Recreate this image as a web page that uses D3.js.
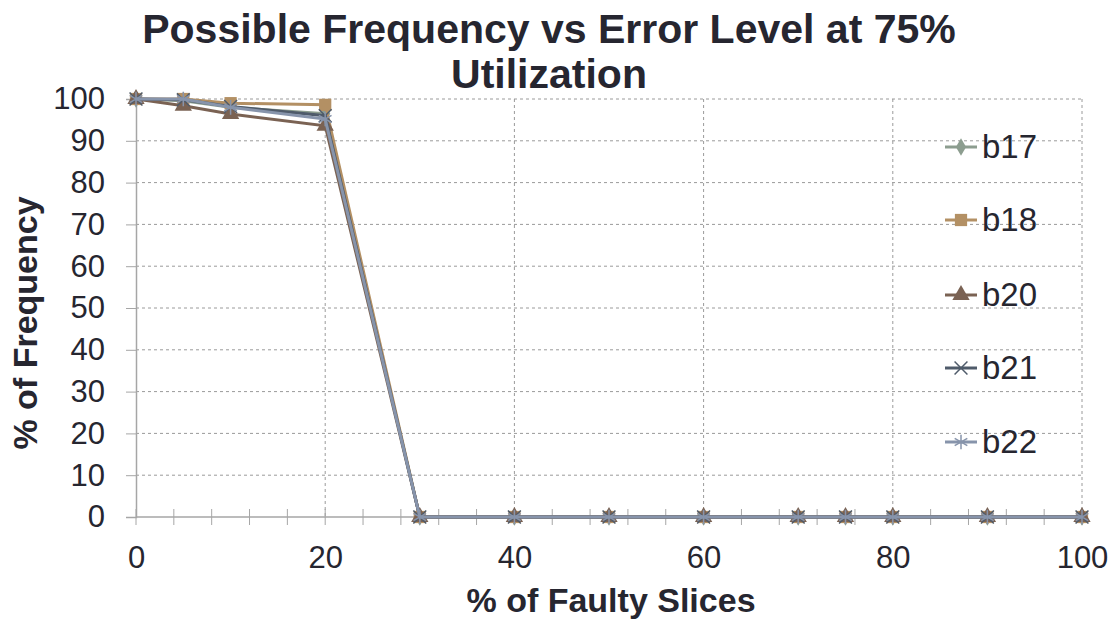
<!DOCTYPE html>
<html>
<head>
<meta charset="utf-8">
<script src="https://cdn.jsdelivr.net/npm/d3@7/dist/d3.min.js"></script>
<style>
  html, body { margin: 0; padding: 0; background: #fff; }
  svg { display: block; font-family: "Liberation Sans", Arial, sans-serif; }
</style>
</head>
<body>
<svg id="chart" width="1118" height="621"></svg>
<script>
// Faulty-slice percentages on the x axis
const faultyPct = [0, 5, 10, 20, 30, 40, 50, 60, 70, 75, 80, 90, 100];

// % of frequency reachable per benchmark
const b17 = [100, 99.6, 98.0, 96.5, 0, 0, 0, 0, 0, 0, 0, 0, 0];
const b18 = [100, 100, 99.0, 98.6, 0, 0, 0, 0, 0, 0, 0, 0, 0];
const b20 = [100, 98.4, 96.4, 93.6, 0, 0, 0, 0, 0, 0, 0, 0, 0];
const b21 = [100, 99.8, 98.2, 96.0, 0, 0, 0, 0, 0, 0, 0, 0, 0];
const b22 = [100, 100, 98.0, 95.2, 0, 0, 0, 0, 0, 0, 0, 0, 0];

const seriesNames = ["b17", "b18", "b20", "b21", "b22"];
const seriesValues = [b17, b18, b20, b21, b22];
const seriesColors = ["#8c9d8f", "#b39064", "#7a6253", "#4f5b6a", "#8794ab"];
const seriesSymbols = [d3.symbolDiamond, d3.symbolSquare, d3.symbolTriangle, d3.symbolX, d3.symbolAsterisk];

const xTickLabels = [0, 20, 40, 60, 80, 100];
const yTickLabels = [0, 10, 20, 30, 40, 50, 60, 70, 80, 90, 100];

const svg = d3.select("#chart");
const plotLeft = 136, plotRight = 1082, plotTop = 99, plotBottom = 517;
const ink = "#262630";

const x = d3.scaleLinear().domain([0, 100]).range([plotLeft, plotRight]);
const y = d3.scaleLinear().domain([0, 100]).range([plotBottom, plotTop]);

// Title
svg.append("text")
  .attr("x", 549).attr("y", 43)
  .attr("text-anchor", "middle")
  .attr("font-weight", "bold").attr("font-size", 41).attr("fill", ink)
  .text("Possible Frequency vs Error Level at 75%");
svg.append("text")
  .attr("x", 549).attr("y", 88)
  .attr("text-anchor", "middle")
  .attr("font-weight", "bold").attr("font-size", 41).attr("fill", ink)
  .text("Utilization");

// Horizontal dashed gridlines (run under the legend too)
svg.append("g").selectAll("line")
  .data(yTickLabels.filter(d => d > 0))
  .join("line")
  .attr("x1", plotLeft).attr("x2", plotRight)
  .attr("y1", d => y(d)).attr("y2", d => y(d))
  .attr("stroke", "#9a9a9a").attr("stroke-width", 1)
  .attr("stroke-dasharray", "3,3");

// Vertical dashed gridlines
svg.append("g").selectAll("line")
  .data(xTickLabels.filter(d => d > 0))
  .join("line")
  .attr("x1", d => x(d)).attr("x2", d => x(d))
  .attr("y1", plotTop).attr("y2", plotBottom)
  .attr("stroke", "#9a9a9a").attr("stroke-width", 1)
  .attr("stroke-dasharray", "3,3");

// Y axis
const yAxis = d3.axisLeft(y).tickValues(yTickLabels).tickSize(10).tickPadding(21);
const gy = svg.append("g").attr("transform", `translate(${plotLeft},0)`).call(yAxis);
gy.select(".domain").attr("stroke", "#a6a6a6").attr("stroke-width", 1.5);
gy.selectAll(".tick line").attr("stroke", "#a6a6a6");
gy.selectAll(".tick text")
  .attr("font-size", 31).attr("fill", ink)
  .attr("font-family", "Liberation Sans, Arial, sans-serif");

// X axis: minor cross ticks every 4 units, labels every 20
const xMinor = d3.range(0, 101, 4);
const gxm = svg.append("g");
gxm.append("line")
  .attr("x1", plotLeft).attr("x2", plotRight)
  .attr("y1", plotBottom).attr("y2", plotBottom)
  .attr("stroke", "#a6a6a6").attr("stroke-width", 1.5);
gxm.selectAll("line.tk")
  .data(xMinor)
  .join("line").attr("class", "tk")
  .attr("x1", d => x(d)).attr("x2", d => x(d))
  .attr("y1", plotBottom - 8).attr("y2", plotBottom + 8)
  .attr("stroke", "#a6a6a6").attr("stroke-width", 1);

const xAxis = d3.axisBottom(x).tickValues(xTickLabels).tickSize(0).tickPadding(29);
const gx = svg.append("g").attr("transform", `translate(0,${plotBottom})`).call(xAxis);
gx.select(".domain").remove();
gx.selectAll(".tick text")
  .attr("font-size", 31).attr("fill", ink)
  .attr("font-family", "Liberation Sans, Arial, sans-serif");

// Axis titles
svg.append("text")
  .attr("x", 611).attr("y", 612)
  .attr("text-anchor", "middle")
  .attr("font-weight", "bold").attr("font-size", 34).attr("fill", ink)
  .text("% of Faulty Slices");
svg.append("text")
  .attr("transform", "translate(37,323) rotate(-90)")
  .attr("text-anchor", "middle")
  .attr("font-weight", "bold").attr("font-size", 34).attr("fill", ink)
  .text("% of Frequency");

// Series lines and markers
const line = d3.line().x((d, i) => x(faultyPct[i])).y(d => y(d));
const markerSizes = [90, 150, 130, 110, 150];

seriesValues.forEach((vals, k) => {
  const g = svg.append("g");
  g.append("path")
    .datum(vals)
    .attr("d", line)
    .attr("fill", "none")
    .attr("stroke", seriesColors[k])
    .attr("stroke-width", 3);
  const sym = d3.symbol().type(seriesSymbols[k]).size(markerSizes[k]);
  const stroked = k >= 3;
  g.selectAll("path.m")
    .data(vals)
    .join("path").attr("class", "m")
    .attr("transform", (d, i) => `translate(${x(faultyPct[i])},${y(d)})`)
    .attr("d", sym)
    .attr("fill", stroked ? "none" : seriesColors[k])
    .attr("stroke", stroked ? seriesColors[k] : "none")
    .attr("stroke-width", stroked ? 1.5 : 0);
});

// Legend
const legendY = [147, 220, 295, 368, 442];
seriesNames.forEach((name, k) => {
  const g = svg.append("g").attr("transform", `translate(945,${legendY[k]})`);
  g.append("line")
    .attr("x1", 0).attr("x2", 32).attr("y1", 0).attr("y2", 0)
    .attr("stroke", seriesColors[k]).attr("stroke-width", 3);
  const stroked = k >= 3;
  g.append("path")
    .attr("transform", "translate(16,0)")
    .attr("d", d3.symbol().type(seriesSymbols[k]).size(markerSizes[k])())
    .attr("fill", stroked ? "none" : seriesColors[k])
    .attr("stroke", stroked ? seriesColors[k] : "none")
    .attr("stroke-width", stroked ? 1.5 : 0);
  g.append("text")
    .attr("x", 37).attr("y", 11)
    .attr("font-size", 33).attr("fill", ink)
    .text(name);
});
</script>
</body>
</html>
